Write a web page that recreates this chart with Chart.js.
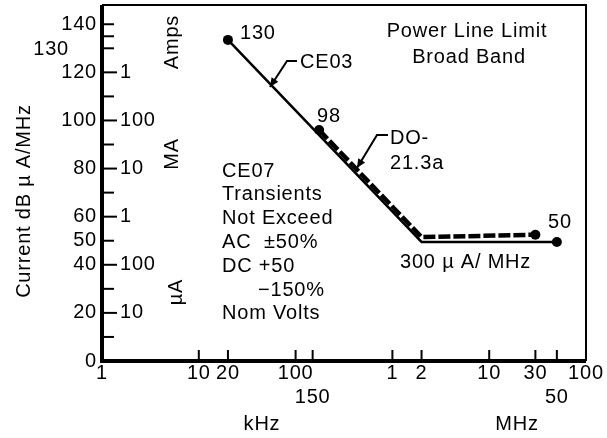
<!DOCTYPE html>
<html><head><meta charset="utf-8">
<script src="https://cdn.jsdelivr.net/npm/chart.js@4/dist/chart.umd.min.js"></script>
<style>html,body{margin:0;padding:0;background:#fff;}</style>
</head><body>
<canvas id="c" width="607" height="438"></canvas>
<script>
// ---- data ----
const xTickValues = [1e3, 1e4, 2e4, 1e5, 1.5e5, 1e6, 2e6, 1e7, 3e7, 5e7, 1e8];
const xTickLabels = ['1', '10', '20', '100', ['', '150'], '1', '2', '10', '30', ['', '50'], '100'];
const xMarkTicks = [1e4, 2e4, 1e5, 1.5e5, 1e6, 2e6, 1e7, 3e7, 5e7];
const yTickValues = [0, 20, 40, 50, 60, 80, 100, 120, 140];
const yMinorTicks = [10, 30, 50, 70, 90, 110, 130, 135, 140];
const ySecondaryValues = [120, 100, 80, 60, 40, 20];
const ySecondaryLabels = ['1', '100', '10', '1', '100', '10'];
const ce03Freq = [2e4, 2e6, 5e7];
const ce03Level = [133.5, 49.5, 49.5];
const do160Freq = [1.75e5, 2e6, 3e7];
const do160Level = [96, 51.5, 52.5];

const FONT = '"Liberation Sans", Arial, Helvetica, sans-serif';

function arrow(ctx, pts) {
  ctx.beginPath();
  ctx.moveTo(pts[0][0], pts[0][1]);
  for (let i = 1; i < pts.length; i++) ctx.lineTo(pts[i][0], pts[i][1]);
  ctx.stroke();
  const [x1, y1] = pts[pts.length - 2], [x2, y2] = pts[pts.length - 1];
  const a = Math.atan2(y2 - y1, x2 - x1), L = 9, W = 4;
  ctx.beginPath();
  ctx.moveTo(x2, y2);
  ctx.lineTo(x2 - L * Math.cos(a) + W * Math.sin(a), y2 - L * Math.sin(a) - W * Math.cos(a));
  ctx.lineTo(x2 - L * Math.cos(a) - W * Math.sin(a), y2 - L * Math.sin(a) + W * Math.cos(a));
  ctx.closePath();
  ctx.fill();
}

const decor = {
  id: 'decor',
  beforeDraw(chart) { chart.ctx.letterSpacing = '0.8px'; },
  beforeDatasetsDraw(chart) {
    const ctx = chart.ctx, a = chart.chartArea, xs = chart.scales.x, ys = chart.scales.y;
    ctx.save();
    ctx.strokeStyle = '#000';
    // frame
    ctx.lineWidth = 2;
    ctx.beginPath(); ctx.moveTo(a.left, a.top); ctx.lineTo(a.right, a.top); ctx.lineTo(a.right, a.bottom); ctx.stroke();
    ctx.lineWidth = 4;
    ctx.beginPath(); ctx.moveTo(a.left, a.top); ctx.lineTo(a.left, a.bottom); ctx.lineTo(a.right, a.bottom); ctx.stroke();
    // y ticks (inside)
    ctx.lineWidth = 2;
    yMinorTicks.concat(ySecondaryValues).forEach(v => {
      const y = ys.getPixelForValue(v);
      const len = ySecondaryValues.includes(v) ? 15 : 12;
      ctx.beginPath(); ctx.moveTo(a.left, y); ctx.lineTo(a.left + len, y); ctx.stroke();
    });
    // x ticks (inside)
    xMarkTicks.forEach(v => {
      const x = xs.getPixelForValue(v);
      ctx.beginPath(); ctx.moveTo(x, a.bottom); ctx.lineTo(x, a.bottom - 11); ctx.stroke();
    });
    ctx.restore();
  },
  afterDraw(chart) {
    const ctx = chart.ctx, a = chart.chartArea, ys = chart.scales.y;
    ctx.save();
    ctx.fillStyle = '#000'; ctx.strokeStyle = '#000';
    ctx.font = '20px ' + FONT;
    ctx.letterSpacing = '0.8px';
    ctx.textBaseline = 'middle';
    // secondary y labels
    ctx.textAlign = 'left';
    ySecondaryValues.forEach((v, i) => ctx.fillText(ySecondaryLabels[i], a.left + 18, ys.getPixelForValue(v)));
    // offset 130 label
    ctx.textAlign = 'right';
    ctx.fillText('130', 69, ys.getPixelForValue(130) + 1);
    // unit labels (rotated)
    const rot = (t, x, y) => { ctx.save(); ctx.translate(x, y); ctx.rotate(-Math.PI / 2); ctx.textAlign = 'center'; ctx.fillText(t, 0, 0); ctx.restore(); };
    rot('Amps', 172, 42);
    rot('MA', 172, 154);
    rot('\u00b5A', 176, 292);
    rot('Current dB \u00b5 A/MHz', 24, 201);
    // x unit rows
    ctx.textAlign = 'center';
    ctx.fillText('kHz', 262, 424);
    ctx.fillText('MHz', 517, 424);
    // annotations
    ctx.textAlign = 'left';
    ctx.fillText('130', 240, 33);
    ctx.fillText('CE03', 300, 62);
    ctx.fillText('98', 317, 116);
    ctx.fillText('DO-', 390, 138);
    ctx.fillText('21.3a', 390, 163);
    ctx.fillText('50', 548, 222);
    ctx.fillText('300 \u00b5 A/ MHz', 400, 262);
    ctx.textAlign = 'center';
    ctx.fillText('Power Line Limit', 467, 31);
    ctx.fillText('Broad Band', 469, 57);
    ctx.textAlign = 'left';
    const block = ['CE07', 'Transients', 'Not Exceed', 'AC  \u00b150%', 'DC +50', '\u2212150%', 'Nom Volts'];
    block.forEach((t, i) => ctx.fillText(t, i === 5 ? 258 : 222, 171 + i * 23.8));
    // leader arrows
    ctx.lineWidth = 2;
    arrow(ctx, [[297, 61], [287, 61], [270, 87]]);
    arrow(ctx, [[388, 135], [377, 135], [357, 168]]);
    ctx.restore();
  }
};

new Chart(document.getElementById('c'), {
  type: 'scatter',
  data: {
    datasets: [
      {
        label: 'CE03',
        data: ce03Freq.map((f, i) => ({ x: f, y: ce03Level[i] })),
        showLine: true, borderColor: '#000', borderWidth: 2.5,
        pointRadius: [5, 0, 5], pointBackgroundColor: '#000', pointBorderWidth: 0
      },
      {
        label: 'DO-160',
        data: do160Freq.map((f, i) => ({ x: f, y: do160Level[i] })),
        showLine: true, borderColor: '#000', borderWidth: 4.5, borderDash: [12, 3],
        pointRadius: [5, 0, 5], pointBackgroundColor: '#000', pointBorderWidth: 0
      }
    ]
  },
  options: {
    responsive: false, animation: false, devicePixelRatio: 1,
    layout: { padding: { left: 0, top: 5, right: 21, bottom: 0 } },
    plugins: { legend: { display: false }, tooltip: { enabled: false } },
    scales: {
      x: {
        type: 'logarithmic', min: 1e3, max: 1e8,
        grid: { display: false, drawTicks: false }, border: { display: false },
        afterBuildTicks: s => { s.ticks = xTickValues.map(v => ({ value: v })); },
        afterFit: s => { s.height = 77; s.paddingLeft = 0; s.paddingRight = 0; },
        ticks: {
          autoSkip: false, maxRotation: 0, minRotation: 0, padding: 0, color: '#000',
          font: { family: FONT, size: 20, lineHeight: 1.2 },
          callback: (v, i) => xTickLabels[i]
        }
      },
      y: {
        type: 'linear', min: 0, max: 148,
        grid: { display: false, drawTicks: false }, border: { display: false },
        afterBuildTicks: s => { s.ticks = yTickValues.map(v => ({ value: v })); },
        afterFit: s => { s.width = 102; s.paddingTop = 0; s.paddingBottom = 0; },
        ticks: { padding: 5, color: '#000', font: { family: FONT, size: 20 }, callback: v => String(v) }
      }
    }
  },
  plugins: [decor]
});
</script>
</body></html>
